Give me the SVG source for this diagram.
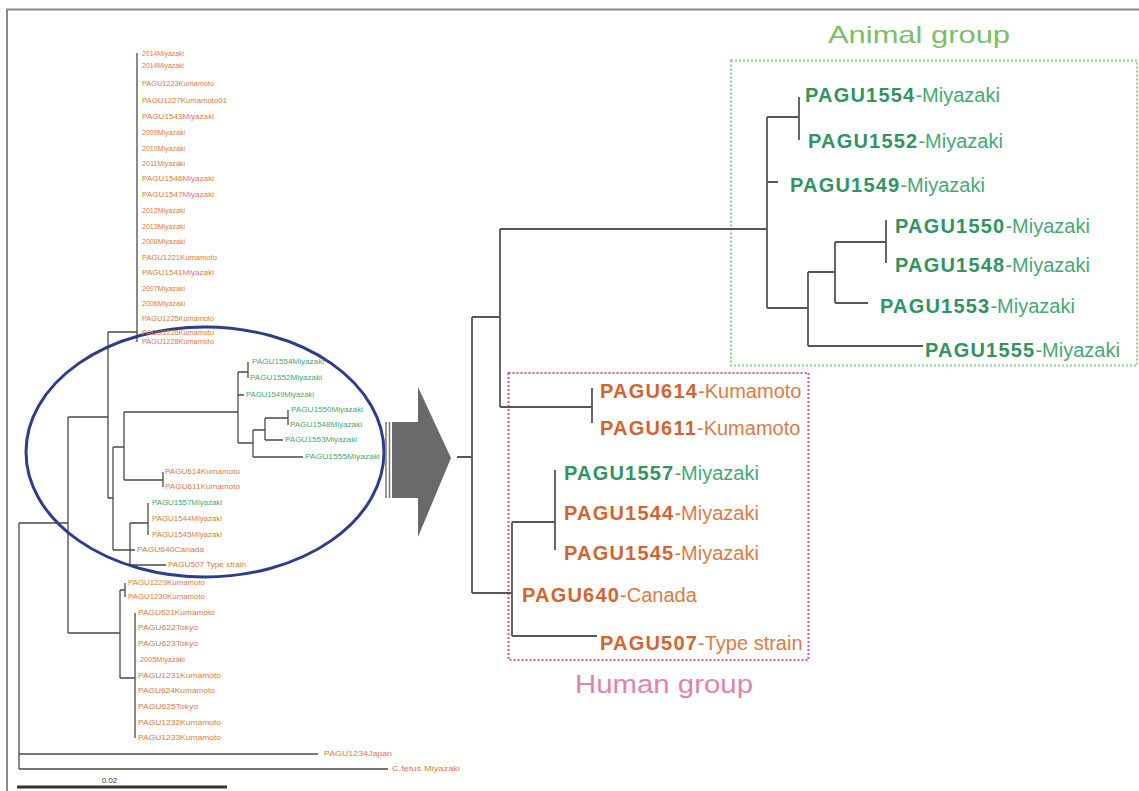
<svg xmlns="http://www.w3.org/2000/svg" width="1139" height="791" viewBox="0 0 1139 791">
<defs>
<style>
text{font-family:"Liberation Sans",Arial,sans-serif}
.br{fill:none;stroke:#575757;stroke-width:1.8}
.bl{fill:none;stroke:#4a4a4a;stroke-width:1.3}
.g{fill:#46a874}
.o{fill:#dd7a45}
.gb{fill:#2f9460;font-weight:bold}
.ob{fill:#d2642f;font-weight:bold}
.lab{font-size:20px}
.tiny{font-size:6.5px}
</style>
</defs>
<rect width="1139" height="791" fill="#ffffff"/>
<path d="M7,791 V9.5 H1139" fill="none" stroke="#8a8a8a" stroke-width="2"/>

<g id="group-boxes">
<rect x="731" y="60.5" width="406" height="305" fill="none" stroke="#8fd48f" stroke-width="2" stroke-dasharray="2 2"/>
<rect x="508.5" y="373" width="300" height="287" fill="none" stroke="#d8609a" stroke-width="2.2" stroke-dasharray="2 2"/>
<text x="828" y="43" font-size="24" fill="#78bf68" textLength="182" lengthAdjust="spacingAndGlyphs">Animal group</text>
<text x="575" y="693" font-size="25" fill="#e184ac" textLength="178" lengthAdjust="spacingAndGlyphs">Human group</text>
</g>

<g id="connectors">
<!-- right tree -->
<path class="br" d="M457,457 H472 M472,317 V593 M472,317 H500 M500,229 V407 M500,229 H767 M767,117 V308 M767,117 H799 M799,97 V140 M767,182 H778 M767,308 H808 M808,272 V346 M808,272 H835 M835,242 V303 M835,242 H886 M886,220 V263 M835,303 H868 M808,346 H923 M500,407 H592 M592,388 V423 M472,593 H512 M512,522 V636 M512,522 H555 M555,470 V550 M512,636 H597"/>
<!-- left tree -->
<path class="bl" d="M19,523 V769 M19,523 H68 M19,754 H318 M19,769 H388 M68,417 V633 M68,417 H108 M108,332 V498 M108,332 H137 M137,53 V342 M108,498 H113 M113,447 V550 M113,447 H124 M124,412 V480 M124,412 H238 M238,372 V443 M238,372 H248 M248,362 V378 M238,395 H244 M238,443 H253 M253,430 V457 M253,430 H265 M265,418 V440 M265,418 H288 M288,410 V425 M265,440 H283 M253,457 H303 M124,480 H163 M163,472 V487 M113,550 H135 M130,523 V565 M130,523 H148 M148,503 V535 M130,565 H166 M68,633 H120 M120,590 V678 M120,590 H125 M125,583 V597 M120,678 H135 M135,613 V738"/>
<path d="M17,787 H227" stroke="#333" stroke-width="3"/>
<!-- highlight ellipse and arrow -->
<ellipse cx="205" cy="452" rx="179" ry="125" fill="none" stroke="#2d3d8c" stroke-width="3"/>
<path d="M386,422 V498 M389.5,422 V498" stroke="#7a7a7a" stroke-width="1.5"/>
<polygon points="392,422 418,422 418,387 451,458 418,537 418,498 392,498" fill="#6a6a6a"/>
</g>

<g id="scale-label"><text x="102" y="783" class="tiny" fill="#333" textLength="15" lengthAdjust="spacingAndGlyphs">0.02</text></g>

<!-- right tree leaves: animal -->
<g id="n-PAGU1554"><text x="805" y="102" class="lab"><tspan class="gb" letter-spacing="1.2">PAGU1554</tspan><tspan class="g">-Miyazaki</tspan></text></g>
<g id="n-PAGU1552"><text x="808" y="148" class="lab"><tspan class="gb" letter-spacing="1.2">PAGU1552</tspan><tspan class="g">-Miyazaki</tspan></text></g>
<g id="n-PAGU1549"><text x="790" y="192" class="lab"><tspan class="gb" letter-spacing="1.2">PAGU1549</tspan><tspan class="g">-Miyazaki</tspan></text></g>
<g id="n-PAGU1550"><text x="895" y="233" class="lab"><tspan class="gb" letter-spacing="1.2">PAGU1550</tspan><tspan class="g">-Miyazaki</tspan></text></g>
<g id="n-PAGU1548"><text x="895" y="272" class="lab"><tspan class="gb" letter-spacing="1.2">PAGU1548</tspan><tspan class="g">-Miyazaki</tspan></text></g>
<g id="n-PAGU1553"><text x="880" y="313" class="lab"><tspan class="gb" letter-spacing="1.2">PAGU1553</tspan><tspan class="g">-Miyazaki</tspan></text></g>
<g id="n-PAGU1555"><text x="925" y="357" class="lab"><tspan class="gb" letter-spacing="1.2">PAGU1555</tspan><tspan class="g">-Miyazaki</tspan></text></g>
<!-- right tree leaves: human -->
<g id="n-PAGU614"><text x="600" y="398" class="lab"><tspan class="ob" letter-spacing="1.2">PAGU614</tspan><tspan class="o">-Kumamoto</tspan></text></g>
<g id="n-PAGU611"><text x="600" y="435" class="lab"><tspan class="ob" letter-spacing="1.2">PAGU611</tspan><tspan class="o">-Kumamoto</tspan></text></g>
<g id="n-PAGU1557"><text x="564" y="480" class="lab"><tspan class="gb" letter-spacing="1.2">PAGU1557</tspan><tspan class="g">-Miyazaki</tspan></text></g>
<g id="n-PAGU1544"><text x="564" y="520" class="lab"><tspan class="ob" letter-spacing="1.2">PAGU1544</tspan><tspan class="o">-Miyazaki</tspan></text></g>
<g id="n-PAGU1545"><text x="564" y="560" class="lab"><tspan class="ob" letter-spacing="1.2">PAGU1545</tspan><tspan class="o">-Miyazaki</tspan></text></g>
<g id="n-PAGU640"><text x="522" y="602" class="lab"><tspan class="ob" letter-spacing="1.2">PAGU640</tspan><tspan class="o">-Canada</tspan></text></g>
<g id="n-PAGU507"><text x="600" y="650" class="lab"><tspan class="ob" letter-spacing="1.2">PAGU507</tspan><tspan class="o">-Type strain</tspan></text></g>

<!-- left tree leaves -->
<g id="left-leaves" class="tiny">
<g id="l1"><text x="142" y="56" class="o" textLength="42" lengthAdjust="spacingAndGlyphs">2014Miyazaki</text></g>
<g id="l2"><text x="142" y="68" class="o" textLength="42" lengthAdjust="spacingAndGlyphs">2014Miyazaki</text></g>
<g id="l3"><text x="142" y="86" class="o" textLength="72" lengthAdjust="spacingAndGlyphs">PAGU1223Kumamoto</text></g>
<g id="l4"><text x="142" y="103" class="o" textLength="85" lengthAdjust="spacingAndGlyphs">PAGU1227Kumamoto01</text></g>
<g id="l5"><text x="142" y="119" class="o" textLength="72" lengthAdjust="spacingAndGlyphs">PAGU1543Miyazaki</text></g>
<g id="l6"><text x="142" y="135" class="o" textLength="43" lengthAdjust="spacingAndGlyphs">2009Miyazaki</text></g>
<g id="l7"><text x="142" y="151" class="o" textLength="43" lengthAdjust="spacingAndGlyphs">2010Miyazaki</text></g>
<g id="l8"><text x="142" y="166" class="o" textLength="43" lengthAdjust="spacingAndGlyphs">2011Miyazaki</text></g>
<g id="l9"><text x="142" y="181" class="o" textLength="72" lengthAdjust="spacingAndGlyphs">PAGU1546Miyazaki</text></g>
<g id="l10"><text x="142" y="197" class="o" textLength="72" lengthAdjust="spacingAndGlyphs">PAGU1547Miyazaki</text></g>
<g id="l11"><text x="142" y="213" class="o" textLength="43" lengthAdjust="spacingAndGlyphs">2012Miyazaki</text></g>
<g id="l12"><text x="142" y="229" class="o" textLength="43" lengthAdjust="spacingAndGlyphs">2013Miyazaki</text></g>
<g id="l13"><text x="142" y="244" class="o" textLength="43" lengthAdjust="spacingAndGlyphs">2008Miyazaki</text></g>
<g id="l14"><text x="142" y="260" class="o" textLength="75" lengthAdjust="spacingAndGlyphs">PAGU1221Kumamoto</text></g>
<g id="l15"><text x="142" y="275" class="o" textLength="72" lengthAdjust="spacingAndGlyphs">PAGU1541Miyazaki</text></g>
<g id="l16"><text x="142" y="291" class="o" textLength="43" lengthAdjust="spacingAndGlyphs">2007Miyazaki</text></g>
<g id="l17"><text x="142" y="306" class="o" textLength="43" lengthAdjust="spacingAndGlyphs">2006Miyazaki</text></g>
<g id="l18"><text x="142" y="321" class="o" textLength="72" lengthAdjust="spacingAndGlyphs">PAGU1225Kumamoto</text></g>
<g id="l19"><text x="142" y="335" class="o" textLength="72" lengthAdjust="spacingAndGlyphs">PAGU1226Kumamoto</text></g>
<g id="l20"><text x="142" y="344" class="o" textLength="72" lengthAdjust="spacingAndGlyphs">PAGU1228Kumamoto</text></g>

<g id="l21"><text x="252" y="364" class="g" textLength="72" lengthAdjust="spacingAndGlyphs">PAGU1554Miyazaki</text></g>
<g id="l22"><text x="250" y="380" class="g" textLength="72" lengthAdjust="spacingAndGlyphs">PAGU1552Miyazaki</text></g>
<g id="l23"><text x="246" y="397" class="g" textLength="68" lengthAdjust="spacingAndGlyphs">PAGU1549Miyazaki</text></g>
<g id="l24"><text x="291" y="412" class="g" textLength="72" lengthAdjust="spacingAndGlyphs">PAGU1550Miyazaki</text></g>
<g id="l25"><text x="290" y="427" class="g" textLength="72" lengthAdjust="spacingAndGlyphs">PAGU1548Miyazaki</text></g>
<g id="l26"><text x="285" y="442" class="g" textLength="72" lengthAdjust="spacingAndGlyphs">PAGU1553Miyazaki</text></g>
<g id="l27"><text x="305" y="459" class="g" textLength="75" lengthAdjust="spacingAndGlyphs">PAGU1555Miyazaki</text></g>
<g id="l28"><text x="165" y="474" class="o" textLength="75" lengthAdjust="spacingAndGlyphs">PAGU614Kumamoto</text></g>
<g id="l29"><text x="165" y="489" class="o" textLength="75" lengthAdjust="spacingAndGlyphs">PAGU611Kumamoto</text></g>
<g id="l30"><text x="152" y="505" class="g" textLength="70" lengthAdjust="spacingAndGlyphs">PAGU1557Miyazaki</text></g>
<g id="l31"><text x="152" y="521" class="o" textLength="70" lengthAdjust="spacingAndGlyphs">PAGU1544Miyazaki</text></g>
<g id="l32"><text x="152" y="537" class="o" textLength="70" lengthAdjust="spacingAndGlyphs">PAGU1545Miyazaki</text></g>
<g id="l33"><text x="137" y="552" class="o" textLength="67" lengthAdjust="spacingAndGlyphs">PAGU640Canada</text></g>
<g id="l34"><text x="168" y="567" class="o" textLength="78" lengthAdjust="spacingAndGlyphs">PAGU507 Type strain</text></g>

<g id="l35"><text x="128" y="585" class="o" textLength="77" lengthAdjust="spacingAndGlyphs">PAGU1229Kumamoto</text></g>
<g id="l36"><text x="128" y="599" class="o" textLength="77" lengthAdjust="spacingAndGlyphs">PAGU1230Kumamoto</text></g>
<g id="l37"><text x="138" y="615" class="o" textLength="77" lengthAdjust="spacingAndGlyphs">PAGU621Kumamoto</text></g>
<g id="l38"><text x="138" y="630" class="o" textLength="60" lengthAdjust="spacingAndGlyphs">PAGU622Tokyo</text></g>
<g id="l39"><text x="138" y="646" class="o" textLength="60" lengthAdjust="spacingAndGlyphs">PAGU623Tokyo</text></g>
<g id="l40"><text x="140" y="662" class="o" textLength="45" lengthAdjust="spacingAndGlyphs">2005Miyazaki</text></g>
<g id="l41"><text x="138" y="678" class="o" textLength="83" lengthAdjust="spacingAndGlyphs">PAGU1231Kumamoto</text></g>
<g id="l42"><text x="138" y="693" class="o" textLength="77" lengthAdjust="spacingAndGlyphs">PAGU624Kumamoto</text></g>
<g id="l43"><text x="138" y="709" class="o" textLength="60" lengthAdjust="spacingAndGlyphs">PAGU625Tokyo</text></g>
<g id="l44"><text x="138" y="725" class="o" textLength="83" lengthAdjust="spacingAndGlyphs">PAGU1232Kumamoto</text></g>
<g id="l45"><text x="138" y="740" class="o" textLength="83" lengthAdjust="spacingAndGlyphs">PAGU1233Kumamoto</text></g>
<g id="l46"><text x="324" y="756" class="o" textLength="68" lengthAdjust="spacingAndGlyphs">PAGU1234Japan</text></g>
<g id="l47"><text x="392" y="771" class="o" textLength="68" lengthAdjust="spacingAndGlyphs">C.fetus Miyazaki</text></g>
</g>
</svg>
